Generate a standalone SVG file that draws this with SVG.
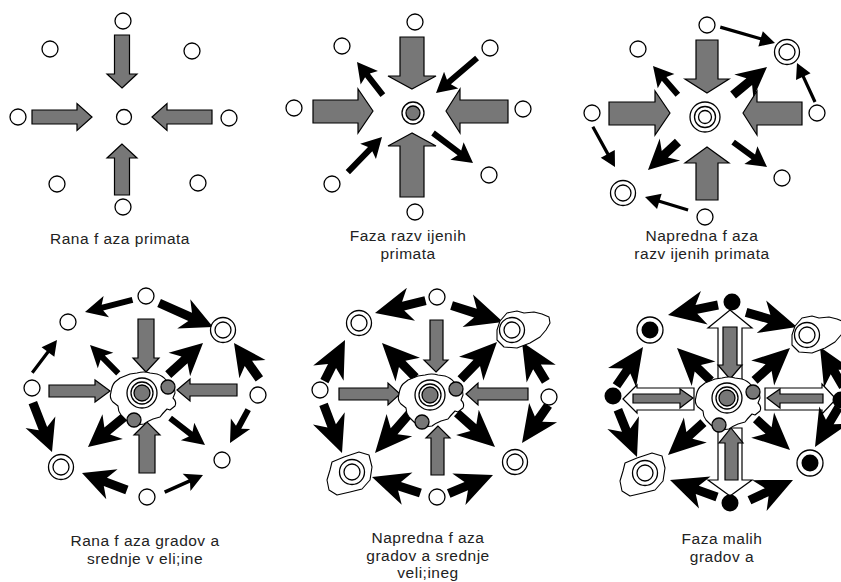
<svg xmlns="http://www.w3.org/2000/svg" xmlns:xlink="http://www.w3.org/1999/xlink" width="841" height="582" viewBox="0 0 841 582">
<style>
.n{fill:#fff;stroke:#000;stroke-width:1.3}
.k{fill:#000}
.g{fill:#777;stroke:#000;stroke-width:1.2}
.w{fill:#fff;stroke:#000;stroke-width:1.2}
.gd{fill:#777;stroke:#000;stroke-width:1.3}
.bl{fill:#fff;stroke:#000;stroke-width:1.1;stroke-linejoin:round}
.b{fill:#000}
.t{font-family:"Liberation Sans",Arial,sans-serif;font-size:15.5px;letter-spacing:0.5px;fill:#222;text-anchor:middle}
</style>
<defs>
<g id="city">
<path class="bl" d="M-31,-1 Q-30,-8 -27,-11 L-22,-15 Q-17,-17 -12,-19 L-5,-20 Q2,-22 8,-20 L15,-19 Q21,-17 24,-13 L29,-9 Q33,-5 33,0 L31,5 Q35,9 33,13 L28,17 L25,16 Q21,20 18,24 L11,26 Q6,28 2,31 L-6,32 Q-12,31 -16,27 L-21,22 Q-24,18 -24,13 L-29,9 Q-33,5 -31,-1 Z"/>
<circle class="n" r="15"/><circle class="n" r="11"/><circle class="gd" r="8"/>
<circle class="gd" cx="26" cy="-6" r="7"/><circle class="gd" cx="-8" cy="27" r="7"/>
</g>
<g id="dbl"><circle class="n" r="12.5"/><circle class="n" r="8"/></g>
<g id="dblk"><circle class="n" r="13"/><circle class="k" r="8.5"/></g>
<path id="blobA" class="bl" d="M-15,0 L-12,-9 L-5,-17 L5,-19 L12,-17 L22,-18 L30,-16 L37,-13 L38,-7 L34,0 L28,7 L18,13 L5,18 L-8,17 L-15,10 Z"/>
<path id="blobB" class="bl" d="M-25,8 L-22,-2 L-20,-10 L-8,-15 L7,-20 L17,-17 L20,-5 L18,8 L10,17 L-2,20 L-15,23 L-23,18 Z"/>
</defs>

<!-- ========== Panel 1: Rana faza primata ========== -->
<g id="panel1">
<g id="p1-connectors">
<polygon class="g" points="122,88 137,74 129.5,74 129.5,35 114.5,35 114.5,74 107,74"/>
<polygon class="g" points="92,117 77,130.5 77,124 32,124 32,110 77,110 77,103.5"/>
<polygon class="g" points="152,117 167,103.5 167,110 212,110 212,124 167,124 167,130.5"/>
<polygon class="g" points="122,144 107,158 114.5,158 114.5,195 129.5,195 129.5,158 137,158"/>
</g>
<g id="p1-n-top"><circle class="n" cx="123" cy="21" r="8"/></g>
<g id="p1-n-ul"><circle class="n" cx="50" cy="49" r="8"/></g>
<g id="p1-n-ur"><circle class="n" cx="192" cy="51" r="8"/></g>
<g id="p1-n-left"><circle class="n" cx="18" cy="117" r="8"/></g>
<g id="p1-n-center"><circle class="n" cx="124" cy="117" r="7.5"/></g>
<g id="p1-n-right"><circle class="n" cx="229" cy="118" r="8"/></g>
<g id="p1-n-ll"><circle class="n" cx="57" cy="184" r="8"/></g>
<g id="p1-n-lr"><circle class="n" cx="198" cy="183" r="8"/></g>
<g id="p1-n-bottom"><circle class="n" cx="123" cy="207" r="8"/></g>
<text class="t" x="120" y="244">Rana f aza primata</text>
</g>

<!-- ========== Panel 2 ========== -->
<g id="panel2">
<g id="p2-connectors">
<polygon class="g" points="412,89 436,76 424,76 424,37 400,37 400,76 388,76"/>
<polygon class="g" points="373,111 358,89 358,100 313,100 313,123 358,123 358,133"/>
<polygon class="g" points="446,111 460,89 460,100 508,100 508,123 460,123 460,133"/>
<polygon class="g" points="412,133 388,146 400,146 400,197 424,197 424,146 436,146"/>
<polygon class="b" transform="translate(357,62) rotate(-128)" points="0,0 -20,-11 -17,-3 -42,-3 -42,3 -17,3 -20,11"/>
<polygon class="b" transform="translate(436,93) rotate(139.5)" points="0,0 -20,-11 -17,-3 -54,-3 -54,3 -17,3 -20,11"/>
<polygon class="b" transform="translate(382,137) rotate(-45.8)" points="0,0 -20,-11 -17,-3 -49,-3 -49,3 -17,3 -20,11"/>
<polygon class="b" transform="translate(473,163) rotate(36.9)" points="0,0 -20,-11 -17,-3 -50,-3 -50,3 -17,3 -20,11"/>
</g>
<g id="p2-n-top"><circle class="n" cx="415" cy="22" r="8"/></g>
<g id="p2-n-ul"><circle class="n" cx="342" cy="46" r="8"/></g>
<g id="p2-n-ur"><circle class="n" cx="490" cy="48" r="8"/></g>
<g id="p2-n-left"><circle class="n" cx="294" cy="108" r="8"/></g>
<g id="p2-n-right"><circle class="n" cx="523" cy="109" r="8"/></g>
<g id="p2-n-ll"><circle class="n" cx="332" cy="184" r="8"/></g>
<g id="p2-n-lr"><circle class="n" cx="489" cy="175" r="8"/></g>
<g id="p2-n-bottom"><circle class="n" cx="415" cy="212" r="8"/></g>
<g id="p2-n-center"><circle class="n" cx="413" cy="113" r="11"/><circle class="gd" cx="413" cy="113" r="7"/></g>
<text class="t" x="408" y="241">Faza razv ijenih<tspan x="408" dy="17.5">primata</tspan></text>
</g>

<!-- ========== Panel 3 ========== -->
<g id="panel3">
<g id="p3-connectors">
<polygon class="g" points="707,93 729,79 718,79 718,40 696,40 696,79 685,79"/>
<polygon class="g" points="670,113 655,91 655,102 609,102 609,125 655,125 655,135"/>
<polygon class="g" points="743,113 757,91 757,102 802,102 802,125 757,125 757,135"/>
<polygon class="g" points="707,147 685,163 696,163 696,200 718,200 718,163 729,163"/>
<polygon class="b" transform="translate(775,43) rotate(16.2)" points="0,0 -15,-8 -15,-1.6 -57,-1.6 -57,1.6 -15,1.6 -15,8"/>
<polygon class="b" transform="translate(797,63) rotate(-114.8)" points="0,0 -15,-8 -15,-1.6 -43,-1.6 -43,1.6 -15,1.6 -15,8"/>
<polygon class="b" transform="translate(615,167) rotate(61.2)" points="0,0 -15,-8 -15,-1.6 -46,-1.6 -46,1.6 -15,1.6 -15,8"/>
<polygon class="b" transform="translate(645,197) rotate(-163.2)" points="0,0 -15,-8 -15,-1.6 -45,-1.6 -45,1.6 -15,1.6 -15,8"/>
<polygon class="b" transform="translate(653,66) rotate(-130.8)" points="0,0 -20,-11 -17,-3 -38,-3 -38,3 -17,3 -20,11"/>
<polygon class="b" transform="translate(767,67) rotate(-39.5)" points="0,0 -30,-15 -23,-4.5 -44,-4.5 -44,4.5 -23,4.5 -30,15"/>
<polygon class="b" transform="translate(648,170) rotate(137)" points="0,0 -30,-15 -23,-4.5 -41,-4.5 -41,4.5 -23,4.5 -30,15"/>
<polygon class="b" transform="translate(767,167) rotate(36.3)" points="0,0 -20,-11 -17,-3 -42,-3 -42,3 -17,3 -20,11"/>
</g>
<g id="p3-n-top"><circle class="n" cx="707" cy="25" r="8"/></g>
<g id="p3-n-ul"><circle class="n" cx="638" cy="49" r="8"/></g>
<g id="p3-n-ur"><use xlink:href="#dbl" href="#dbl" x="787" y="52"/></g>
<g id="p3-n-left"><circle class="n" cx="592" cy="113" r="8"/></g>
<g id="p3-n-right"><circle class="n" cx="817" cy="113" r="8"/></g>
<g id="p3-n-ll"><use xlink:href="#dbl" href="#dbl" x="623" y="193"/></g>
<g id="p3-n-lr"><circle class="n" cx="782" cy="178" r="8"/></g>
<g id="p3-n-bottom"><circle class="n" cx="705" cy="217" r="8"/></g>
<g id="p3-n-center"><circle class="n" cx="705" cy="117" r="15"/><circle class="n" cx="705" cy="117" r="10.5"/><circle class="n" cx="705" cy="117" r="6.5"/></g>
<text class="t" x="702" y="241">Napredna f aza<tspan x="702" dy="17.5">razv ijenih primata</tspan></text>
</g>

<!-- ========== Panel 4 ========== -->
<g id="panel4">
<g id="p4-connectors">
<polygon class="g" points="146,372 159,358 154,358 154,319 138,319 138,358 133,358"/>
<polygon class="g" points="110,391 95,380 95,385 49,385 49,397 95,397 95,402"/>
<polygon class="g" points="177,390 190,379 190,384 237,384 237,396 190,396 190,401"/>
<polygon class="g" points="147,422 134,435 139,435 139,473 155,473 155,435 160,435"/>
<polygon class="b" transform="translate(85,312) rotate(165.7)" points="0,0 -22,-11 -18,-3 -49,-3 -49,3 -18,3 -22,11"/>
<polygon class="b" transform="translate(213,327) rotate(24)" points="0,0 -32,-16 -25,-4.5 -59,-4.5 -59,4.5 -25,4.5 -32,16"/>
<polygon class="b" transform="translate(234,343) rotate(-125.2)" points="0,0 -32,-16 -25,-4.5 -44,-4.5 -44,4.5 -25,4.5 -32,16"/>
<polygon class="b" transform="translate(230,443) rotate(118.6)" points="0,0 -22,-11 -18,-3 -38,-3 -38,3 -18,3 -22,11"/>
<polygon class="b" transform="translate(57,340) rotate(-52.9)" points="0,0 -15,-8 -15,-1.6 -41,-1.6 -41,1.6 -15,1.6 -15,8"/>
<polygon class="b" transform="translate(52,452) rotate(68.8)" points="0,0 -32,-16 -25,-4.5 -53,-4.5 -53,4.5 -25,4.5 -32,16"/>
<polygon class="b" transform="translate(82,473) rotate(-159.3)" points="0,0 -32,-16 -25,-4.5 -48,-4.5 -48,4.5 -25,4.5 -32,16"/>
<polygon class="b" transform="translate(203,475) rotate(-24.1)" points="0,0 -18,-9.5 -15,-1.8 -42,-1.8 -42,1.8 -15,1.8 -18,9.5"/>
<polygon class="b" transform="translate(90,345) rotate(-135)" points="0,0 -22,-11 -18,-3 -40,-3 -40,3 -18,3 -22,11"/>
<polygon class="b" transform="translate(203,343) rotate(-42.3)" points="0,0 -32,-16 -25,-4.5 -47,-4.5 -47,4.5 -25,4.5 -32,16"/>
<polygon class="b" transform="translate(88,447) rotate(140.4)" points="0,0 -32,-16 -25,-4.5 -47,-4.5 -47,4.5 -25,4.5 -32,16"/>
<polygon class="b" transform="translate(205,445) rotate(37.6)" points="0,0 -22,-11 -18,-3 -44,-3 -44,3 -18,3 -22,11"/>
</g>
<g id="p4-n-top"><circle class="n" cx="146" cy="296" r="8"/></g>
<g id="p4-n-ul"><circle class="n" cx="68" cy="322" r="8"/></g>
<g id="p4-n-ur"><use xlink:href="#dbl" href="#dbl" x="223" y="330"/></g>
<g id="p4-n-left"><circle class="n" cx="32" cy="388" r="8"/></g>
<g id="p4-n-right"><circle class="n" cx="258" cy="395" r="8"/></g>
<g id="p4-n-ll"><use xlink:href="#dbl" href="#dbl" x="61" y="467"/></g>
<g id="p4-n-lr"><circle class="n" cx="222" cy="460" r="8"/></g>
<g id="p4-n-bottom"><circle class="n" cx="147" cy="497" r="8"/></g>
<g id="p4-n-center"><use xlink:href="#city" href="#city" x="142" y="393"/></g>
<text class="t" x="145" y="546">Rana f aza gradov a<tspan x="145" dy="17.5">srednje v eli;ine</tspan></text>
</g>

<!-- ========== Panel 5 ========== -->
<g id="panel5">
<g id="p5-connectors">
<polygon class="g" points="436,372 448,360 443,360 443,320 430,320 430,360 424,360"/>
<polygon class="g" points="400,394 388,383 388,388 339,388 339,400 388,400 388,405"/>
<polygon class="g" points="466,394 478,383 478,388 528,388 528,400 478,400 478,405"/>
<polygon class="g" points="438,426 426,438 431,438 431,475 444,475 444,438 450,438"/>
<polygon class="b" transform="translate(375,313) rotate(166.2)" points="0,0 -37,-17 -29,-4.5 -52,-4.5 -52,4.5 -29,4.5 -37,17"/>
<polygon class="b" transform="translate(503,322) rotate(17.8)" points="0,0 -37,-17 -29,-4.5 -54,-4.5 -54,4.5 -29,4.5 -37,17"/>
<polygon class="b" transform="translate(345,340) rotate(-63.4)" points="0,0 -37,-17 -29,-4.5 -46,-4.5 -46,4.5 -29,4.5 -37,17"/>
<polygon class="b" transform="translate(382,343) rotate(-134.1)" points="0,0 -37,-17 -29,-4.5 -48,-4.5 -48,4.5 -29,4.5 -37,17"/>
<polygon class="b" transform="translate(497,342) rotate(-45.8)" points="0,0 -37,-17 -29,-4.5 -52,-4.5 -52,4.5 -29,4.5 -37,17"/>
<polygon class="b" transform="translate(522,342) rotate(-121.2)" points="0,0 -37,-17 -29,-4.5 -46,-4.5 -46,4.5 -29,4.5 -37,17"/>
<polygon class="b" transform="translate(342,453) rotate(69.2)" points="0,0 -37,-17 -29,-4.5 -52,-4.5 -52,4.5 -29,4.5 -37,17"/>
<polygon class="b" transform="translate(375,453) rotate(131.2)" points="0,0 -37,-17 -29,-4.5 -52,-4.5 -52,4.5 -29,4.5 -37,17"/>
<polygon class="b" transform="translate(495,447) rotate(41.8)" points="0,0 -37,-17 -29,-4.5 -51,-4.5 -51,4.5 -29,4.5 -37,17"/>
<polygon class="b" transform="translate(522,443) rotate(124.8)" points="0,0 -37,-17 -29,-4.5 -46,-4.5 -46,4.5 -29,4.5 -37,17"/>
<polygon class="b" transform="translate(372,477) rotate(-161.6)" points="0,0 -37,-17 -29,-4.5 -51,-4.5 -51,4.5 -29,4.5 -37,17"/>
<polygon class="b" transform="translate(493,475) rotate(-22.7)" points="0,0 -37,-17 -29,-4.5 -48,-4.5 -48,4.5 -29,4.5 -37,17"/>
</g>
<g id="p5-n-top"><circle class="n" cx="437" cy="297" r="8"/></g>
<g id="p5-n-ul"><use xlink:href="#dbl" href="#dbl" x="359" y="323"/></g>
<g id="p5-n-ur"><use xlink:href="#blobA" href="#blobA" x="512" y="330"/><use xlink:href="#dbl" href="#dbl" x="512" y="330"/></g>
<g id="p5-n-left"><circle class="n" cx="320" cy="390" r="8"/></g>
<g id="p5-n-right"><circle class="n" cx="549" cy="397" r="8"/></g>
<g id="p5-n-ll"><use xlink:href="#blobB" href="#blobB" x="352" y="472"/><use xlink:href="#dbl" href="#dbl" x="352" y="472"/></g>
<g id="p5-n-lr"><use xlink:href="#dbl" href="#dbl" x="515" y="462"/></g>
<g id="p5-n-bottom"><circle class="n" cx="437" cy="497" r="8"/></g>
<g id="p5-n-center"><use xlink:href="#city" href="#city" x="430" y="395"/></g>
<text class="t" x="428" y="543">Napredna f aza<tspan x="428" dy="17.5">gradov a srednje</tspan><tspan x="428" dy="17.5">veli;ineg</tspan></text>
</g>

<!-- ========== Panel 6 ========== -->
<g id="panel6">
<g id="p6-connectors">
<polygon class="w" points="730,310 752,328 742,328 742,381 718,381 718,328 708,328"/>
<polygon class="w" points="730,496 752,480 742,480 742,428 718,428 718,480 708,480"/>
<polygon class="w" points="623,399 637,385 637,388 694,388 694,410 637,410 637,413"/>
<polygon class="w" points="836,399 822,384 822,388 765,388 765,410 822,410 822,414"/>
<polygon class="g" points="730,379 742,365 737,365 737,327 723,327 723,365 718,365"/>
<polygon class="g" points="731,428 743,443 738,443 738,480 725,480 725,443 719,443"/>
<polygon class="g" points="693,398 680,389 680,394 633,394 633,403 680,403 680,408"/>
<polygon class="g" points="767,398 780,389 780,394 823,394 823,403 780,403 780,408"/>
<polygon class="b" transform="translate(668,315) rotate(168.7)" points="0,0 -37,-17 -29,-4.5 -51,-4.5 -51,4.5 -29,4.5 -37,17"/>
<polygon class="b" transform="translate(797,327) rotate(16.1)" points="0,0 -37,-17 -29,-4.5 -53,-4.5 -53,4.5 -29,4.5 -37,17"/>
<polygon class="b" transform="translate(643,347) rotate(-55.6)" points="0,0 -37,-17 -29,-4.5 -47,-4.5 -47,4.5 -29,4.5 -37,17"/>
<polygon class="b" transform="translate(677,348) rotate(-135.9)" points="0,0 -37,-17 -29,-4.5 -47,-4.5 -47,4.5 -29,4.5 -37,17"/>
<polygon class="b" transform="translate(790,348) rotate(-42.4)" points="0,0 -37,-17 -29,-4.5 -48,-4.5 -48,4.5 -29,4.5 -37,17"/>
<polygon class="b" transform="translate(820,347) rotate(-120.3)" points="0,0 -37,-17 -29,-4.5 -46,-4.5 -46,4.5 -29,4.5 -37,17"/>
<polygon class="b" transform="translate(637,457) rotate(68)" points="0,0 -37,-17 -29,-4.5 -51,-4.5 -51,4.5 -29,4.5 -37,17"/>
<polygon class="b" transform="translate(668,455) rotate(137.6)" points="0,0 -37,-17 -29,-4.5 -48,-4.5 -48,4.5 -29,4.5 -37,17"/>
<polygon class="b" transform="translate(790,450) rotate(42.3)" points="0,0 -37,-17 -29,-4.5 -46,-4.5 -46,4.5 -29,4.5 -37,17"/>
<polygon class="b" transform="translate(815,447) rotate(120.7)" points="0,0 -37,-17 -29,-4.5 -46,-4.5 -46,4.5 -29,4.5 -37,17"/>
<polygon class="b" transform="translate(670,480) rotate(-160.1)" points="0,0 -37,-17 -29,-4.5 -50,-4.5 -50,4.5 -29,4.5 -37,17"/>
<polygon class="b" transform="translate(793,480) rotate(-24.9)" points="0,0 -37,-17 -29,-4.5 -48,-4.5 -48,4.5 -29,4.5 -37,17"/>
</g>
<g id="p6-n-top"><circle class="k" cx="732" cy="302" r="8.5"/></g>
<g id="p6-n-ul"><use xlink:href="#dblk" href="#dblk" x="650" y="330"/></g>
<g id="p6-n-ur"><use xlink:href="#blobA" href="#blobA" x="807" y="335"/><use xlink:href="#dbl" href="#dbl" x="807" y="335"/></g>
<g id="p6-n-left"><circle class="k" cx="613" cy="396" r="8.5"/></g>
<g id="p6-n-right"><circle class="k" cx="841" cy="400" r="8.5"/></g>
<g id="p6-n-ll"><use xlink:href="#blobB" href="#blobB" x="645" y="473"/><use xlink:href="#dbl" href="#dbl" x="645" y="473"/></g>
<g id="p6-n-lr"><use xlink:href="#dblk" href="#dblk" x="810" y="463"/></g>
<g id="p6-n-bottom"><circle class="k" cx="730" cy="503" r="8.5"/></g>
<g id="p6-n-center"><use xlink:href="#city" href="#city" x="727" y="398"/></g>
<text class="t" x="722" y="544">Faza malih<tspan x="722" dy="17.5">gradov a</tspan></text>
</g>
</svg>
